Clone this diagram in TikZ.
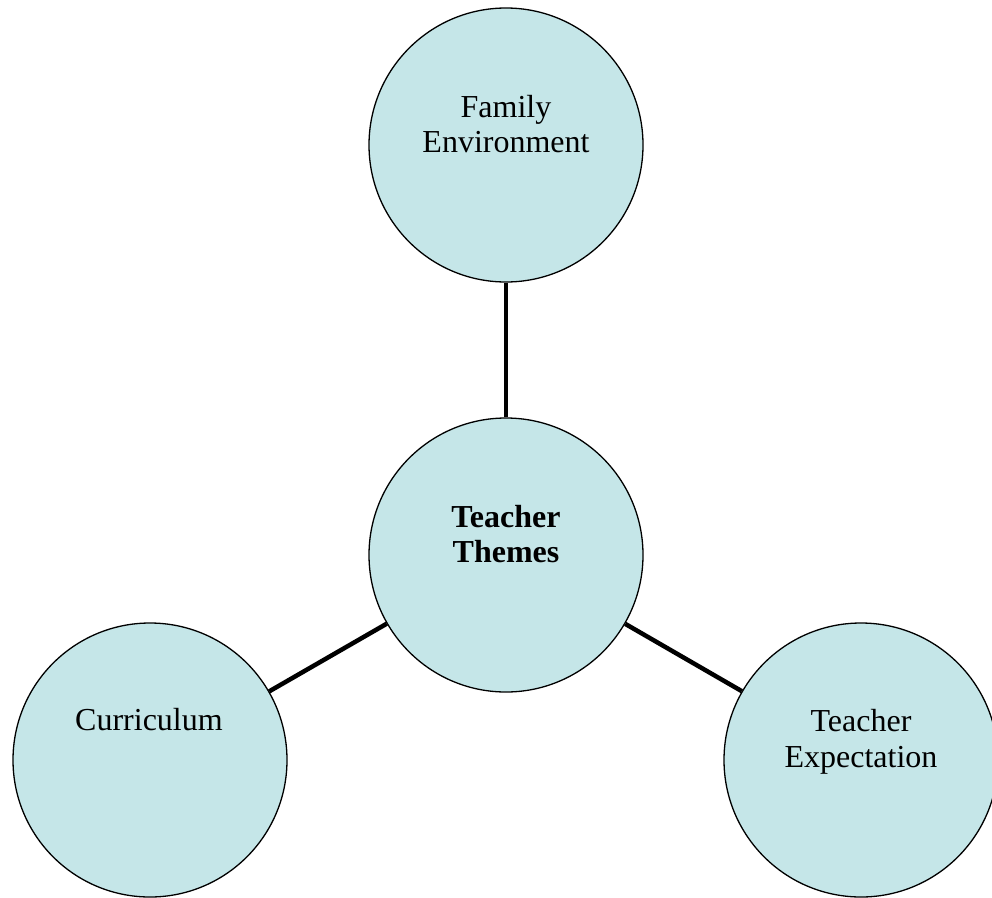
\documentclass[tikz,border=0pt]{standalone}
\usepackage{fontspec}
\setmainfont{Liberation Serif}
\definecolor{bubble}{RGB}{197,230,232}
\begin{document}
\begin{tikzpicture}[x=1pt,y=-1pt,
  bubble/.style={circle,draw=black,line width=1.3pt,fill=bubble,minimum size=274pt,inner sep=0pt},
  lbl/.style={align=center,inner sep=0pt,font=\fontsize{32}{35.5}\selectfont},
  link/.style={line width=4.5pt}]
\useasboundingbox (0,0) rectangle (992,897);
\node[bubble] (top) at (506,145) {};
\node[bubble] (mid) at (506,555) {};
\node[bubble] (left) at (150,760) {};
\node[bubble] (right) at (861,760) {};
\node[lbl] (toptxt) at (506,124) {Family\\Environment};
\node[lbl,font=\fontsize{32}{35.5}\selectfont\bfseries] (midtxt) at (506,534) {Teacher\\Themes};
\node[lbl] (lefttxt) at (149,720) {Curriculum};
\node[lbl] (righttxt) at (861,742) {Teacher\\Expectation};
\draw[link] (mid) -- (top);
\draw[link] (mid) -- (left);
\draw[link] (mid) -- (right);
\end{tikzpicture}
\end{document}
